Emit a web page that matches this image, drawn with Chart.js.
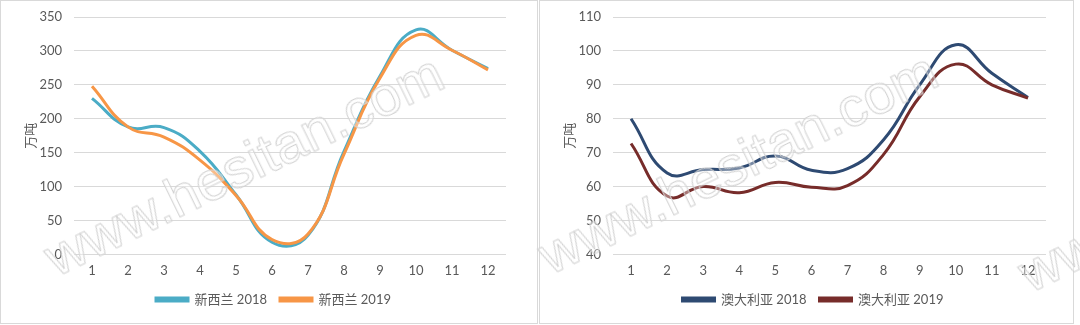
<!DOCTYPE html>
<html><head><meta charset="utf-8">
<script src="https://cdn.jsdelivr.net/npm/chart.js@4"></script>
<style>
html,body{margin:0;padding:0;background:#fff;width:1080px;height:325px;overflow:hidden;position:relative}
.panel{position:absolute;top:0;height:322px;border:1px solid #d9d9d9;background:#fff;overflow:hidden}
#p1{left:0;width:536px}
#p2{left:539px;width:533px}
.wm{position:absolute;font:normal 56px "Liberation Sans",Arial,sans-serif;color:rgba(255,255,255,0.35);
 -webkit-text-stroke:1px #d2d2d2;transform-origin:0 100%;transform:rotate(-26deg);white-space:nowrap;pointer-events:none}
</style></head><body>
<div class="panel" id="p1"><canvas id="c1" width="536" height="322"></canvas></div>
<div class="panel" id="p2"><canvas id="c2" width="533" height="322"></canvas></div>
<div class="wm" style="left:62px;top:224px">www.hesitan.com</div>
<div class="wm" style="left:556px;top:222px">www.hesitan.com</div>
<div class="wm" style="left:1036px;top:240px">www.hesitan.com</div>
<script>
const months = ['1','2','3','4','5','6','7','8','9','10','11','12'];
const nz2018 = [230, 188, 187, 152, 88, 18, 28, 152, 263, 331, 301, 274];
const nz2019 = [248, 188, 173, 139, 87, 22, 30, 148, 260, 323, 301, 272];
const au2018 = [80, 64, 65, 65.5, 69, 64.8, 65.3, 73.8, 90, 101.8, 93.4, 86.3];
const au2019 = [72.7, 57.2, 60, 58.2, 61.2, 59.8, 60.3, 69.5, 86.5, 96.1, 90, 86.1];
const nzLabels = ['新西兰 2018', '新西兰 2019'];
const auLabels = ['澳大利亚 2018', '澳大利亚 2019'];
const yTitle = '万吨';

const FONT = 'Lato, "Noto Sans CJK SC", sans-serif';
const GRAY = '#595959';
const GRID = '#d9d9d9';

const legendShift = {
  id: 'legendShift',
  afterLayout(chart, args, opts) {
    if (chart.legend) { chart.legend.left += opts.dx; chart.legend.right += opts.dx; }
  }
};

function make(id, labels, s1, s2, colors, ymin, ymax, step, padRight) {
  new Chart(document.getElementById(id), {
    type: 'line',
    data: {
      labels: months,
      datasets: [
        {label: labels[0], data: s1, borderColor: colors[0], backgroundColor: colors[0], borderWidth: 3, pointRadius: 0, tension: 0.45, order: 2},
        {label: labels[1], data: s2, borderColor: colors[1], backgroundColor: colors[1], borderWidth: 3, pointRadius: 0, tension: 0.45, order: 1}
      ]
    },
    plugins: [legendShift],
    options: {
      responsive: false, animation: false,
      layout: {padding: {top: 16, right: padRight, left: 18, bottom: 7}},
      plugins: {
        legendShift: {dx: 11},
        legend: {position: 'bottom', labels: {boxWidth: 32, boxHeight: 3, color: GRAY, font: {family: FONT, size: 13}, padding: 13,
                 sort: (a, b) => a.datasetIndex - b.datasetIndex}},
        tooltip: {enabled: false}
      },
      scales: {
        x: {offset: true, grid: {display: false}, border: {display: false},
            ticks: {color: GRAY, font: {family: FONT, size: 13}, padding: 1}},
        y: {min: ymin, max: ymax, border: {display: false},
            grid: {color: GRID, lineWidth: 1, drawTicks: true, tickLength: 12, tickColor: 'rgba(0,0,0,0)'},
            ticks: {stepSize: step, color: GRAY, font: {family: FONT, size: 13}, padding: 0},
            title: {display: true, text: yTitle, color: GRAY, font: {family: FONT, size: 13}, padding: 4},
            afterFit: (s) => { s.width = 55; }
        }
      }
    }
  });
}
make('c1', nzLabels, nz2018, nz2019, ['#4BACC6', '#F79646'], 0, 350, 50, 31);
make('c2', auLabels, au2018, au2019, ['#2E4A72', '#772C2A'], 40, 110, 10, 27);
</script>
</body></html>
